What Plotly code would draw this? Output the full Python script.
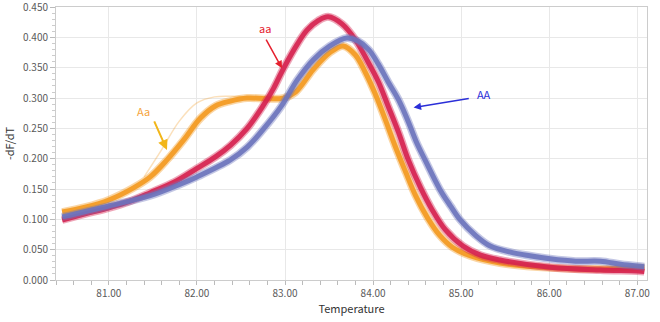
import plotly.graph_objects as go

# ---- data ----
aa_temp = [80.47, 80.73, 81.00, 81.24, 81.47, 81.75, 82.00, 82.21, 82.38, 82.57, 82.75, 82.87, 82.98, 83.14,
           83.25, 83.38, 83.49, 83.65, 83.80, 83.93, 84.06, 84.17, 84.29, 84.40, 84.54, 84.67, 84.82, 85.02,
           85.22, 85.44, 86.01, 86.58, 87.00, 87.08]
aa_val = [0.099, 0.109, 0.119, 0.130, 0.144, 0.162, 0.184, 0.203, 0.222, 0.250, 0.287, 0.316, 0.348, 0.389,
          0.412, 0.428, 0.434, 0.422, 0.396, 0.363, 0.327, 0.287, 0.243, 0.198, 0.152, 0.116, 0.083, 0.056,
          0.041, 0.033, 0.021, 0.0165, 0.015, 0.014]

AA_temp = [80.47, 81.00, 81.47, 81.81, 82.00, 82.38, 82.57, 82.75, 82.95, 83.14, 83.32, 83.51, 83.70, 83.83,
           83.95, 84.06, 84.17, 84.29, 84.40, 84.49, 84.59, 84.76, 84.88, 84.99, 85.16, 85.33, 85.56, 85.78,
           86.01, 86.30, 86.58, 86.81, 87.00, 87.08]
AA_val = [0.104, 0.122, 0.139, 0.158, 0.170, 0.198, 0.219, 0.248, 0.285, 0.330, 0.363, 0.386, 0.399, 0.394,
          0.380, 0.356, 0.327, 0.297, 0.261, 0.228, 0.198, 0.149, 0.122, 0.099, 0.074, 0.056, 0.046, 0.040,
          0.035, 0.031, 0.031, 0.026, 0.023, 0.022]

Aa_temp = [80.47, 80.73, 81.00, 81.28, 81.47, 81.66, 81.85, 82.04, 82.21, 82.38, 82.57, 82.78, 82.98, 83.12,
           83.32, 83.51, 83.66, 83.80, 83.91, 84.03, 84.14, 84.25, 84.37, 84.48, 84.62, 84.76, 84.90, 85.10,
           85.44, 86.01, 86.58, 87.00, 87.08]
Aa_val = [0.112, 0.120, 0.132, 0.152, 0.170, 0.198, 0.231, 0.267, 0.287, 0.295, 0.300, 0.299, 0.300, 0.310,
          0.347, 0.375, 0.386, 0.371, 0.343, 0.305, 0.264, 0.221, 0.178, 0.140, 0.102, 0.073, 0.054, 0.040,
          0.028, 0.020, 0.018, 0.020, 0.020]

# a few faint early-melting Aa traces above the main band
Aa_faint_temp = [81.40, 81.60, 81.80, 82.00, 82.20, 82.40, 82.60]
Aa_faint_val = [0.170, 0.215, 0.262, 0.292, 0.302, 0.303, 0.301]

x_ticks = [81, 82, 83, 84, 85, 86, 87]
y_ticks = [0.0, 0.05, 0.10, 0.15, 0.20, 0.25, 0.30, 0.35, 0.40, 0.45]

RED = "#D6224F"
BLUE = "#6C74BD"
ORANGE = "#F49A20"

fig = go.Figure()


def band(t, v, color):
    fig.add_trace(go.Scatter(x=t, y=v, mode="lines",
                             line=dict(color=color, width=8, shape="spline", smoothing=1.0),
                             opacity=0.4, hoverinfo="skip", showlegend=False))
    fig.add_trace(go.Scatter(x=t, y=v, mode="lines",
                             line=dict(color=color, width=5, shape="spline", smoothing=1.0),
                             opacity=0.9, hoverinfo="skip", showlegend=False))


fig.add_trace(go.Scatter(x=Aa_faint_temp, y=Aa_faint_val, mode="lines",
                         line=dict(color=ORANGE, width=1.5, shape="spline"), opacity=0.3, showlegend=False))
band(Aa_temp, Aa_val, ORANGE)
band(aa_temp, aa_val, RED)
band(AA_temp, AA_val, BLUE)

font_family = "Noto Sans CJK KR, Noto Sans, sans-serif"

annos = [
    # labels
    dict(x=82.775, y=0.415, text="aa", showarrow=False, font=dict(color="#E5202E", size=11)),
    dict(x=81.395, y=0.279, text="Aa", showarrow=False, font=dict(color="#F5A43C", size=11)),
    dict(x=85.26, y=0.3064, text="AA", showarrow=False, font=dict(color="#2B2FD8", size=11)),
    # arrows
    dict(x=82.966, y=0.349, ax=-16.7, ay=-30.3, text="", showarrow=True, arrowhead=2, arrowsize=1,
         arrowwidth=1.5, arrowcolor="#E5202E"),
    dict(x=81.66, y=0.2145, ax=-13.4, ay=-30, text="", showarrow=True, arrowhead=2, arrowsize=1,
         arrowwidth=2, arrowcolor="#F2B619"),
    dict(x=84.46, y=0.2843, ax=56.7, ay=-9.4, text="", showarrow=True, arrowhead=2, arrowsize=1,
         arrowwidth=1.5, arrowcolor="#2B2FD8"),
]

fig.update_layout(
    width=660, height=322,
    margin=dict(l=56, r=13, t=7, b=42, autoexpand=False),
    paper_bgcolor="white", plot_bgcolor="white",
    font=dict(family=font_family, size=10, color="#555555"),
    annotations=annos,
    showlegend=False,
)

fig.update_xaxes(
    range=[80.40, 87.11],
    automargin=False,
    tickvals=x_ticks, ticktext=[f"{t:.2f}" for t in x_ticks],
    showgrid=True, gridcolor="#E8E8E8", gridwidth=1,
    showline=True, linecolor="#CCCCCC", linewidth=1, mirror=True,
    ticks="outside", ticklen=4, tickcolor="#BBBBBB",
    minor=dict(dtick=0.2, tick0=81, ticks="outside", ticklen=4, tickcolor="#BBBBBB", showgrid=False),
    tickfont=dict(size=10, color="#5A5A5A"),
    ticklabeloverflow="allow",
    title=dict(text="Temperature", font=dict(size=11, color="#333333"), standoff=4),
    zeroline=False,
)
fig.update_yaxes(
    range=[0, 0.4502],
    automargin=False,
    tickvals=y_ticks, ticktext=[f"{t:.3f}" for t in y_ticks],
    showgrid=True, gridcolor="#E8E8E8", gridwidth=1,
    showline=True, linecolor="#CCCCCC", linewidth=1, mirror=True,
    ticks="outside", ticklen=5, tickcolor="#BBBBBB",
    minor=dict(dtick=0.01, tick0=0, ticks="outside", ticklen=3, tickcolor="#CCCCCC", showgrid=False),
    tickfont=dict(size=10, color="#5A5A5A"),
    ticklabeloverflow="allow",
    title=dict(text="-dF/dT", font=dict(size=11, color="#333333"), standoff=6),
    zeroline=False,
)

fig.write_html("out.html")
